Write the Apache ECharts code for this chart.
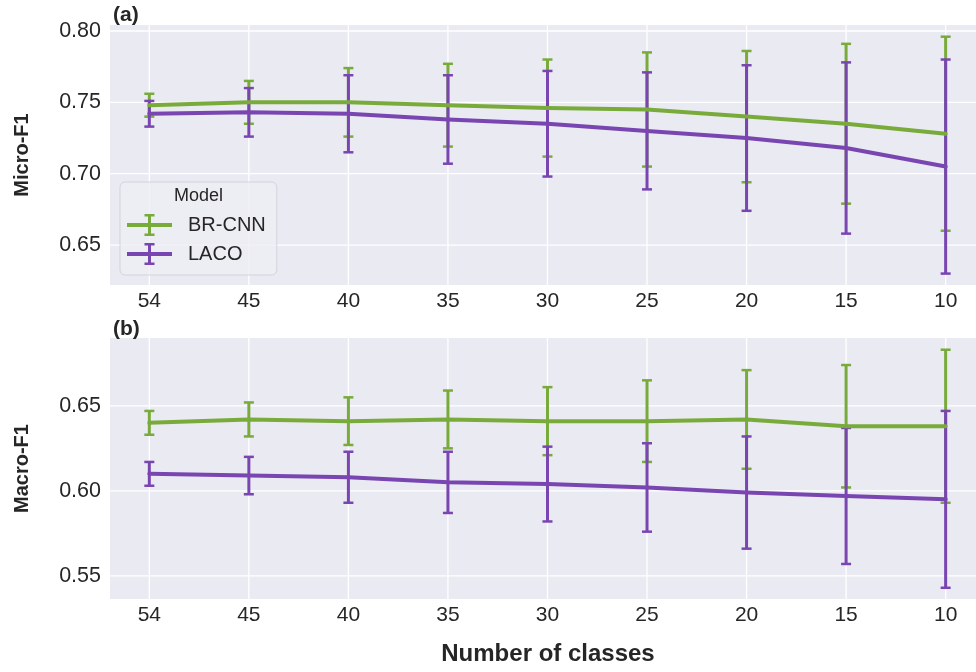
<!DOCTYPE html>
<html>
<head>
<meta charset="utf-8">
<script src="https://cdn.jsdelivr.net/npm/echarts@6/dist/echarts.min.js"></script>
<style>html,body{margin:0;padding:0;background:#fff;}#c{width:976px;height:672px;}</style>
</head>
<body>
<div id="c"></div>
<script>
const categories = ['54','45','40','35','30','25','20','15','10'];

const microBrMean = [0.748, 0.750, 0.750, 0.748, 0.746, 0.745, 0.740, 0.735, 0.728];
const microBrLow  = [0.740, 0.735, 0.726, 0.719, 0.712, 0.705, 0.694, 0.679, 0.660];
const microBrHigh = [0.756, 0.765, 0.774, 0.777, 0.780, 0.785, 0.786, 0.791, 0.796];
const microLaMean = [0.742, 0.743, 0.742, 0.738, 0.735, 0.730, 0.725, 0.718, 0.705];
const microLaLow  = [0.733, 0.726, 0.715, 0.707, 0.698, 0.689, 0.674, 0.658, 0.630];
const microLaHigh = [0.751, 0.760, 0.769, 0.769, 0.772, 0.771, 0.776, 0.778, 0.780];

const macroBrMean = [0.640, 0.642, 0.641, 0.642, 0.641, 0.641, 0.642, 0.638, 0.638];
const macroBrLow  = [0.633, 0.632, 0.627, 0.625, 0.621, 0.617, 0.613, 0.602, 0.593];
const macroBrHigh = [0.647, 0.652, 0.655, 0.659, 0.661, 0.665, 0.671, 0.674, 0.683];
const macroLaMean = [0.610, 0.609, 0.608, 0.605, 0.604, 0.602, 0.599, 0.597, 0.595];
const macroLaLow  = [0.603, 0.598, 0.593, 0.587, 0.582, 0.576, 0.566, 0.557, 0.543];
const macroLaHigh = [0.617, 0.620, 0.623, 0.623, 0.626, 0.628, 0.632, 0.637, 0.647];

const microTicks = [0.65, 0.70, 0.75, 0.80];
const macroTicks = [0.55, 0.60, 0.65];

const GREEN = '#79ab3b';
const PURPLE = '#7945b1';
const FONT = '"Liberation Sans", Arial, sans-serif';
const TXT = '#262626';

const xIdx = categories.map((c, i) => i);

function errData(low, high) { return xIdx.map(i => [i, low[i], high[i]]); }
function lineData(mean) { return xIdx.map(i => [i, mean[i]]); }

function errSeries(name, color, gi, low, high) {
  return {
    type: 'custom', name: name, xAxisIndex: gi, yAxisIndex: gi, silent: true,
    encode: { x: 0, y: [1, 2] },
    data: errData(low, high),
    renderItem: function (params, api) {
      const i = api.value(0);
      const p1 = api.coord([i, api.value(1)]);
      const p2 = api.coord([i, api.value(2)]);
      const x = p1[0];
      return {
        type: 'group',
        children: [
          { type: 'line', shape: { x1: x, y1: p1[1], x2: x, y2: p2[1] }, style: { stroke: color, lineWidth: 3 } },
          { type: 'line', shape: { x1: x - 5, y1: p1[1], x2: x + 5, y2: p1[1] }, style: { stroke: color, lineWidth: 2.5 } },
          { type: 'line', shape: { x1: x - 5, y1: p2[1], x2: x + 5, y2: p2[1] }, style: { stroke: color, lineWidth: 2.5 } }
        ]
      };
    }
  };
}

function meanSeries(name, color, gi, mean) {
  return {
    type: 'line', name: name, xAxisIndex: gi, yAxisIndex: gi,
    data: lineData(mean), symbol: 'none', silent: true,
    lineStyle: { color: color, width: 4, cap: 'round', join: 'round' },
    itemStyle: { color: color },
    z: 3
  };
}

function hGrid(gi, ticks) {
  return {
    type: 'custom', xAxisIndex: gi, yAxisIndex: gi, silent: true, z: 1,
    data: ticks.map(v => [0, v]),
    renderItem: function (params, api) {
      const cs = params.coordSys;
      const y = api.coord([0, api.value(1)])[1];
      return { type: 'line', shape: { x1: cs.x, y1: y, x2: cs.x + cs.width, y2: y }, style: { stroke: '#ffffff', lineWidth: 1.3 } };
    }
  };
}
function vGrid(gi, yRef) {
  return {
    type: 'custom', xAxisIndex: gi, yAxisIndex: gi, silent: true, z: 1,
    data: xIdx.map(i => [i, yRef]),
    renderItem: function (params, api) {
      const cs = params.coordSys;
      const x = api.coord([api.value(0), yRef])[0];
      return { type: 'line', shape: { x1: x, y1: cs.y, x2: x, y2: cs.y + cs.height }, style: { stroke: '#ffffff', lineWidth: 1.3 } };
    }
  };
}

const legendIcon = 'path://M0,9 H45 V13 H0 Z M21,0 H24 V22 H21 Z M17.5,0 H27.5 V2.5 H17.5 Z M17.5,19.5 H27.5 V22 H17.5 Z';

function xAxisCfg(gi, withName) {
  const a = {
    type: 'value', gridIndex: gi, min: -0.395, max: 8.305,
    axisLine: { show: false }, axisTick: { show: false, customValues: xIdx },
    splitLine: { show: false },
    axisLabel: {
      customValues: xIdx, margin: 6, fontSize: 21, color: TXT, fontFamily: FONT,
      formatter: function (v) { return categories[Math.round(v)]; }
    }
  };
  if (withName) {
    a.name = 'Number of classes';
    a.nameLocation = 'middle';
    a.nameGap = 43;
    a.nameTextStyle = { fontSize: 24, fontWeight: 'bold', color: TXT, fontFamily: FONT, padding: [0, 0, 0, 10] };
  }
  return a;
}
function yAxisCfg(gi, min, max, ticks, name) {
  return {
    type: 'value', gridIndex: gi, min: min, max: max,
    axisLine: { show: false }, axisTick: { show: false, customValues: ticks },
    splitLine: { show: false },
    axisLabel: {
      customValues: ticks, margin: 9, fontSize: 21.5, color: TXT, fontFamily: FONT,
      formatter: function (v) { return v.toFixed(2); }
    },
    name: name, nameLocation: 'middle', nameGap: 78, nameRotate: 90,
    nameTextStyle: { fontSize: 20, fontWeight: 'bold', color: TXT, fontFamily: FONT }
  };
}

const microMin = 0.622, microMax = 0.8042;
const macroMin = 0.5364, macroMax = 0.6899;

const option = {
  animation: false,
  backgroundColor: '#ffffff',
  title: [
    { text: '(a)', left: 108, top: 0, textStyle: { fontSize: 21, fontWeight: 'bold', color: TXT, fontFamily: FONT } },
    { text: '(b)', left: 108, top: 314, textStyle: { fontSize: 21, fontWeight: 'bold', color: TXT, fontFamily: FONT } }
  ],
  grid: [
    { left: 110, right: 0, top: 25, height: 260, show: true, backgroundColor: '#eaeaf2', borderWidth: 0 },
    { left: 110, right: 0, top: 338, height: 261, show: true, backgroundColor: '#eaeaf2', borderWidth: 0 }
  ],
  xAxis: [xAxisCfg(0, false), xAxisCfg(1, true)],
  yAxis: [
    yAxisCfg(0, microMin, microMax, microTicks, 'Micro-F1'),
    yAxisCfg(1, macroMin, macroMax, macroTicks, 'Macro-F1')
  ],
  legend: {
    data: ['BR-CNN', 'LACO'],
    orient: 'vertical', left: 120, top: 182,
    padding: [32, 11, 10, 7],
    itemWidth: 45, itemHeight: 22, itemGap: 7,
    icon: legendIcon,
    backgroundColor: 'rgba(237,237,244,0.8)',
    borderColor: 'rgba(205,205,214,0.8)', borderWidth: 1, borderRadius: 5,
    itemStyle: { borderWidth: 0 },
    textStyle: { fontSize: 20, color: TXT, fontFamily: FONT, padding: [0, 0, 0, 11] },
    selectedMode: false
  },
  graphic: [
    { type: 'text', left: 174, top: 187, z: 100, silent: true,
      style: { text: 'Model', fontSize: 18, fill: TXT, fontFamily: FONT } }
  ],
  series: [
    vGrid(0, microMin), hGrid(0, microTicks),
    errSeries('BR-CNN err a', GREEN, 0, microBrLow, microBrHigh),
    meanSeries('BR-CNN', GREEN, 0, microBrMean),
    errSeries('LACO err a', PURPLE, 0, microLaLow, microLaHigh),
    meanSeries('LACO', PURPLE, 0, microLaMean),

    vGrid(1, macroMin), hGrid(1, macroTicks),
    errSeries('BR-CNN err b', GREEN, 1, macroBrLow, macroBrHigh),
    meanSeries('BR-CNN', GREEN, 1, macroBrMean),
    errSeries('LACO err b', PURPLE, 1, macroLaLow, macroLaHigh),
    meanSeries('LACO', PURPLE, 1, macroLaMean)
  ]
};

const chart = echarts.init(document.getElementById('c'), null, { renderer: 'canvas' });
chart.setOption(option);
</script>
</body>
</html>
